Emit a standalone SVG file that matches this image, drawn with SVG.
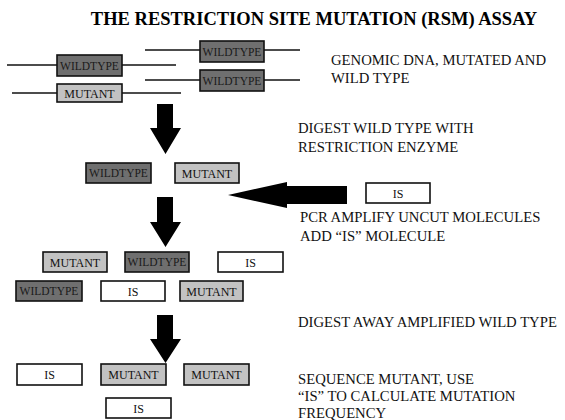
<svg xmlns="http://www.w3.org/2000/svg" width="565" height="420" viewBox="0 0 565 420">
<style>
.wt{fill:#6f6f6f;stroke:#111;stroke-width:1.6}
.mu{fill:#c2c2c2;stroke:#111;stroke-width:1.6}
.is{fill:#fff;stroke:#111;stroke-width:1.6}
text{font-family:"Liberation Serif","Times New Roman","DejaVu Serif",serif}
.bt{font-size:12px;text-anchor:middle;fill:#111}
.wtt{font-size:11.5px;text-anchor:middle;fill:#1a1a1a}
.lbl{font-size:14.7px;fill:#111}
.ttl{font-size:18.5px;font-weight:bold;fill:#000;text-anchor:middle}
.dna{stroke:#111;stroke-width:1.5}
.arr{fill:#000}
</style>
<text class="ttl" x="314" y="25">THE RESTRICTION SITE MUTATION (RSM) ASSAY</text>

<g id="dna-wt-1"><line class="dna" x1="145" y1="50" x2="300" y2="50"/><rect class="wt" x="200" y="41" width="64" height="21"/><text class="wtt" x="232" y="55.5">WILDTYPE</text></g>
<g id="dna-wt-2"><line class="dna" x1="7" y1="65" x2="176" y2="65"/><rect class="wt" x="57" y="55" width="65" height="21"/><text class="wtt" x="89.5" y="69.5">WILDTYPE</text></g>
<g id="dna-wt-3"><line class="dna" x1="145" y1="80" x2="300" y2="80"/><rect class="wt" x="200" y="70" width="64" height="21"/><text class="wtt" x="232" y="84.5">WILDTYPE</text></g>
<g id="dna-mut-1"><line class="dna" x1="12" y1="93" x2="181" y2="93"/><rect class="mu" x="57" y="84" width="65" height="18"/><text class="bt" x="89.5" y="97.5">MUTANT</text></g>

<g id="digest-wt"><rect class="wt" x="86" y="163" width="65" height="20"/><text class="wtt" x="118.5" y="177">WILDTYPE</text></g>
<g id="digest-mut"><rect class="mu" x="175" y="163" width="64" height="20"/><text class="bt" x="207" y="177.5">MUTANT</text></g>
<g id="is-add"><rect class="is" x="366" y="183" width="64" height="20"/><text class="bt" x="398" y="197.5">IS</text></g>

<g id="amp-mut-1"><rect class="mu" x="43" y="252" width="64" height="20"/><text class="bt" x="75" y="266.5">MUTANT</text></g>
<g id="amp-wt-1"><rect class="wt" x="125" y="252" width="64" height="20"/><text class="wtt" x="157" y="266">WILDTYPE</text></g>
<g id="amp-is-1"><rect class="is" x="218" y="252" width="65" height="20"/><text class="bt" x="250.5" y="266.5">IS</text></g>
<g id="amp-wt-2"><rect class="wt" x="16" y="281" width="66" height="20"/><text class="wtt" x="49" y="295">WILDTYPE</text></g>
<g id="amp-is-2"><rect class="is" x="101" y="281" width="64" height="20"/><text class="bt" x="133" y="295.5">IS</text></g>
<g id="amp-mut-2"><rect class="mu" x="180" y="281" width="63" height="20"/><text class="bt" x="211.5" y="295.5">MUTANT</text></g>

<g id="final-is-1"><rect class="is" x="17" y="364" width="65" height="21"/><text class="bt" x="49.5" y="379">IS</text></g>
<g id="final-mut-1"><rect class="mu" x="101" y="364" width="65" height="21"/><text class="bt" x="133.5" y="379">MUTANT</text></g>
<g id="final-mut-2"><rect class="mu" x="184" y="364" width="65" height="21"/><text class="bt" x="216.5" y="379">MUTANT</text></g>
<g id="final-is-2"><rect class="is" x="106" y="398" width="65" height="20"/><text class="bt" x="138.5" y="412.5">IS</text></g>

<g id="connectors">
<polygon class="arr" points="157,104 173,104 173,128 181,128 165.5,154 150,128 157,128"/>
<polygon class="arr" points="157,197 173,197 173,222 181,222 165.5,247 150,222 157,222"/>
<polygon class="arr" points="157,315 173,315 173,339 181,339 165.5,363 150,339 157,339"/>
<polygon class="arr" points="228,195 287,182 287,186 347,186 347,204 287,204 287,208"/>
</g>

<g id="labels">
<text class="lbl" x="331" y="65">GENOMIC DNA, MUTATED AND</text>
<text class="lbl" x="331" y="83">WILD TYPE</text>
<text class="lbl" x="298" y="133">DIGEST WILD TYPE WITH</text>
<text class="lbl" x="298" y="152">RESTRICTION ENZYME</text>
<text class="lbl" x="300" y="222">PCR AMPLIFY UNCUT MOLECULES</text>
<text class="lbl" x="300" y="241">ADD “IS” MOLECULE</text>
<text class="lbl" x="298" y="327">DIGEST AWAY AMPLIFIED WILD TYPE</text>
<text class="lbl" x="298" y="384">SEQUENCE MUTANT, USE</text>
<text class="lbl" x="298" y="401">“IS” TO CALCULATE MUTATION</text>
<text class="lbl" x="298" y="418">FREQUENCY</text>
</g>
</svg>
